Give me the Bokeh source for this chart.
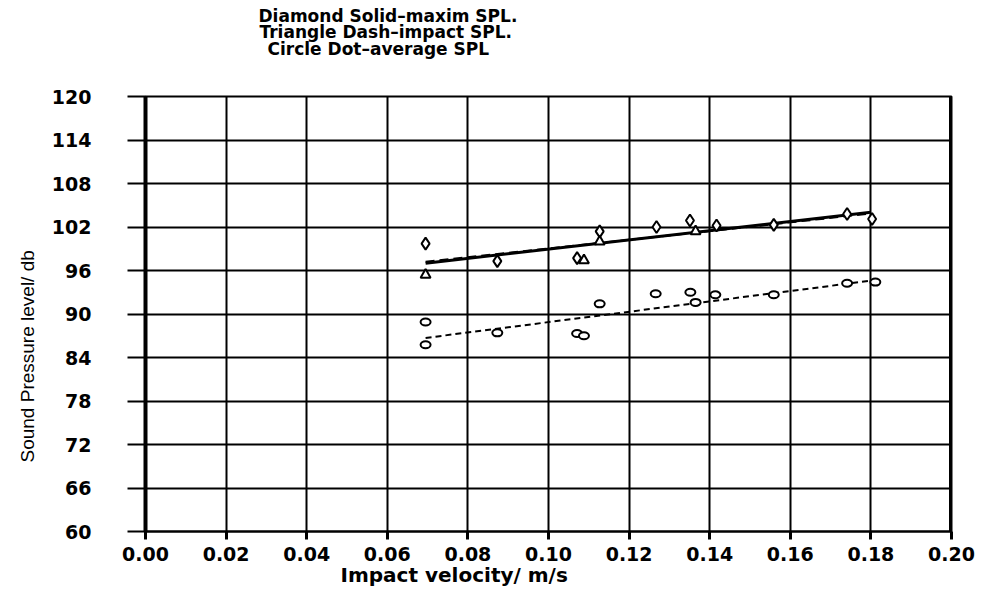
from bokeh.plotting import figure
from bokeh.models import FixedTicker, NumeralTickFormatter, Span, Title
from bokeh.embed import file_html
from bokeh.resources import INLINE

# Measured sound pressure levels against impact velocity
max_x = [0.0695, 0.0873, 0.1071, 0.1127, 0.1268, 0.1351, 0.1417, 0.1559, 0.1741, 0.1803]
max_y = [99.7, 97.3, 97.7, 101.4, 102.0, 102.9, 102.2, 102.3, 103.8, 103.1]

impact_x = [0.0695, 0.1088, 0.1127, 0.1365]
impact_y = [95.4, 97.4, 100.0, 101.4]

avg_x = [0.0695, 0.0695, 0.0873, 0.1071, 0.1088, 0.1127, 0.1266, 0.1352, 0.1365,
         0.1414, 0.1559, 0.1741, 0.1811]
avg_y = [88.9, 85.75, 87.4, 87.3, 87.0, 91.4, 92.8, 93.0, 91.6, 92.65, 92.65, 94.25, 94.4]

# Trend lines (end points)
max_fit_x = [0.0695, 0.1800]
max_fit_y = [97.0, 104.05]
impact_fit_x = [0.0695, 0.1800]
impact_fit_y = [97.2, 103.85]
avg_fit_x = [0.0695, 0.1800]
avg_fit_y = [86.7, 94.6]

x_ticks = [0.00, 0.02, 0.04, 0.06, 0.08, 0.10, 0.12, 0.14, 0.16, 0.18, 0.20]
y_ticks = [60, 66, 72, 78, 84, 90, 96, 102, 108, 114, 120]

legend_lines = [
    "Diamond Solid\u2013maxim SPL.",
    "Triangle Dash\u2013impact SPL.",
    "Circle Dot\u2013average SPL",
]
y_title = "Sound Pressure level/ db"
x_title = "Impact velocity/ m/s"

W, H = 982, 593
FRAME_LEFT, FRAME_TOP, FRAME_BOTTOM = 145, 96, 531

p = figure(width=W, height=H, x_range=(0, 0.2), y_range=(60, 120),
           output_backend="svg", toolbar_location=None,
           min_border_left=FRAME_LEFT, min_border_right=31,
           min_border_top=FRAME_TOP, min_border_bottom=H - FRAME_BOTTOM)
p.background_fill_color = "white"
p.border_fill_color = "white"
p.outline_line_color = "black"
p.outline_line_width = 2

FONT = "DejaVu Sans"

# x axis
xa = p.xaxis[0]
xa.ticker = FixedTicker(ticks=x_ticks)
xa.formatter = NumeralTickFormatter(format="0.00")
xa.axis_line_width = 2
xa.axis_line_color = "black"
xa.major_tick_line_width = 3
xa.major_tick_out = 8
xa.major_tick_in = 0
xa.minor_tick_line_color = None
xa.major_label_text_font = FONT
xa.major_label_text_font_style = "bold"
xa.major_label_text_font_size = "19px"
xa.major_label_text_color = "black"
xa.major_label_standoff = 7

# y axis
ya = p.yaxis[0]
ya.ticker = FixedTicker(ticks=y_ticks)
ya.axis_line_width = 4
ya.axis_line_color = "black"
ya.major_tick_line_width = 2
ya.major_tick_out = 18
ya.major_tick_in = 0
ya.minor_tick_line_color = None
ya.major_label_text_font = FONT
ya.major_label_text_font_style = "bold"
ya.major_label_text_font_size = "19px"
ya.major_label_text_color = "black"
ya.major_label_standoff = 36

# grid
p.xgrid.ticker = FixedTicker(ticks=x_ticks)
p.ygrid.ticker = FixedTicker(ticks=y_ticks)
for g in (p.xgrid[0], p.ygrid[0]):
    g.grid_line_color = "black"
    g.grid_line_width = 2
    g.grid_line_alpha = 1.0

# heavy right border
p.add_layout(Span(location=0.2, dimension="height", line_color="black", line_width=5))

# trend lines
p.line(max_fit_x, max_fit_y, line_color="black", line_width=3)
p.line(impact_fit_x, impact_fit_y, line_color="black", line_width=2, line_dash="9 5")
p.line(avg_fit_x, avg_fit_y, line_color="black", line_width=2, line_dash="6 4")

# markers
p.scatter(max_x, max_y, marker="diamond", size=12, line_color="black",
          line_width=2, fill_color="white")
p.scatter(impact_x, impact_y, marker="triangle", size=10, line_color="black",
          line_width=2, fill_color="white")
p.ellipse(avg_x, avg_y, width=10, height=7, width_units="screen", height_units="screen",
          line_color="black", line_width=2, fill_color="white")

# axis titles placed as side titles so they can be shifted along the axis
p.add_layout(Title(text=x_title, align="left", offset=195, standoff=-6,
                   vertical_align="bottom", text_font=FONT, text_font_style="bold",
                   text_font_size="20px", text_color="black"), "below")
p.add_layout(Title(text=y_title, align="left", offset=69, standoff=21,
                   text_font="Liberation Sans", text_font_style="normal",
                   text_font_size="19px", text_color="black"), "left")

# stacked key text above the plot; panels stack outward from the frame
p.add_layout(Title(text="\u00a0", standoff=12, text_font=FONT,
                   text_font_size="17px"), "above")
legend_offset = [113, 114, 122]
legend_standoff = [6, -18, 8]
for txt, off, so in reversed(list(zip(legend_lines, legend_offset, legend_standoff))):
    p.add_layout(Title(text=txt, align="left", offset=off, standoff=so,
                       text_font=FONT, text_font_style="bold",
                       text_font_size="17px", text_color="black"), "above")

open("out.html", "w").write(file_html(p, INLINE))
